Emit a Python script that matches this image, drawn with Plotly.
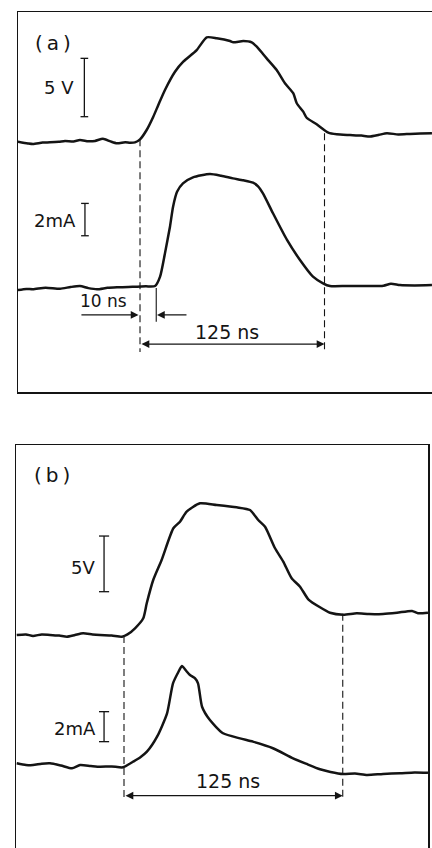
import plotly.graph_objects as go

# ---------------- Panel (a) ----------------
# time in ns (0 = start of voltage pulse), voltage in V
t_va = [-82.7, -76.0, -72.5, -66.0, -61.0, -55.0, -50.8, -45.0, -40.7, -35.0, -30.5, -25.1, -20.0,
        -15.6, -10.0, -6.8, -3.4, 0.0, 4.5, 9.0, 12.4, 16.9, 23.7, 29.3, 38.4, 45.2, 52.0, 61.0,
        63.2, 70.0, 75.7, 79.1, 85.8, 92.6, 98.2, 103.9, 106.2, 110.6, 112.9, 119.7, 127.6,
        133.3, 142.3, 150.0, 156.0, 162.0, 167.3, 175.0, 182.9, 190.0, 197.8]
v_a = [0.03, -0.12, -0.17, -0.05, -0.03, 0.02, 0.09, 0.05, 0.17, 0.06, 0.09, 0.28, 0.05,
       -0.11, -0.02, -0.06, -0.03, 0.23, 1.03, 2.17, 3.17, 4.46, 6.02, 6.88, 7.88, 8.97, 8.89, 8.65,
       8.54, 8.65, 8.54, 8.17, 7.17, 6.17, 5.03, 4.17, 3.32, 2.60, 2.08, 1.52, 0.80,
       0.66, 0.60, 0.55, 0.48, 0.62, 0.75, 0.65, 0.69, 0.72, 0.75]

# current in mA
t_ia = [-82.7, -77.0, -72.5, -64.0, -54.2, -47.0, -40.7, -35.0, -29.1, -22.0, -15.6, -8.0, -2.0,
        4.0, 10.2, 13.6, 16.9, 20.3, 22.4, 25.1, 29.1, 35.9, 47.4, 55.0, 63.0, 70.0, 76.6, 80.0,
        83.3, 90.1, 99.6, 108.4, 117.2, 124.0, 128.7, 140.0, 153.8, 165.0, 170.0, 176.2, 186.0, 197.8]
i_a = [-0.17, -0.10, -0.12, -0.02, -0.09, 0.02, 0.08, -0.05, -0.12, -0.03, 0.0, 0.02, 0.04,
       0.06, 0.08, 0.66, 2.10, 3.75, 4.99, 5.91, 6.43, 6.80, 7.01, 6.90, 6.74, 6.62, 6.47, 6.25,
       5.81, 4.58, 2.93, 1.69, 0.66, 0.25, 0.08, 0.08, 0.08, 0.10, 0.22, 0.14, 0.12, 0.14]

# ---------------- Panel (b) ----------------
t_vb = [-61.3, -56.0, -52.0, -47.0, -42.3, -37.0, -32.6, -28.0, -23.4, -18.0, -13.7, -7.0, -1.1,
        2.0, 6.3, 11.0, 13.0, 16.7, 21.5, 28.2, 32.0, 35.8, 43.4, 53.0, 64.4, 72.0, 76.7, 80.6,
        86.3, 91.0, 95.8, 100.6, 105.3, 112.0, 117.7, 125.3, 133.0, 140.0, 148.0, 156.0, 164.6,
        168.0, 173.7]
v_b = [0.0, 0.05, -0.09, 0.05, 0.0, -0.05, -0.15, 0.0, 0.15, 0.05, 0.0, -0.05, -0.15,
       0.05, 0.60, 1.50, 2.85, 4.94, 6.74, 9.59, 10.18, 11.08, 11.83, 11.68, 11.47, 11.23, 10.33,
       9.73, 7.79, 6.59, 5.09, 4.34, 3.21, 2.49, 2.00, 1.82, 1.95, 1.88, 1.89, 2.0, 2.16,
       1.95, 2.00]

t_ib = [-61.3, -56.0, -52.0, -47.0, -42.3, -36.0, -29.7, -25.1, -19.0, -13.7, -7.0, -0.6, 5.1,
        9.0, 13.1, 18.9, 24.6, 28.0, 31.0, 33.1, 35.5, 37.7, 40.5, 42.3, 44.6, 49.1, 56.6, 66.3,
        73.7, 85.1, 96.6, 104.0, 112.0, 118.0, 125.1, 132.0, 138.9, 148.0, 157.7, 166.0, 173.7]
i_b = [0.23, 0.12, 0.11, 0.20, 0.23, 0.08, -0.11, 0.11, 0.05, 0.0, 0.02, -0.04, 0.33,
       0.60, 1.0, 2.0, 3.56, 5.56, 6.30, 6.71, 6.40, 6.11, 5.90, 5.56, 4.0, 3.11, 2.23, 1.89,
       1.67, 1.23, 0.56, 0.20, -0.17, -0.35, -0.49, -0.45, -0.55, -0.48, -0.44, -0.38, -0.40]

# markers / scales
pulse_ns = 125
delay_ns = 11
scale_v = 5
scale_ma = 2

INK = "#141414"
FONT = "DejaVu Sans"

fig = go.Figure()


def line(x, y, xa, ya, width=2.5, dash=None, smooth=False):
    ln = dict(color=INK, width=width, dash=dash)
    if smooth:
        ln.update(shape="spline", smoothing=0.6)
    fig.add_trace(go.Scatter(x=x, y=y, xaxis=xa, yaxis=ya, mode="lines", line=ln,
                             hoverinfo="skip", showlegend=False))


# traces
line(t_va, v_a, "x", "y", smooth=True)
line(t_ia, i_a, "x", "y2", smooth=True)
line(t_vb, v_b, "x2", "y3", smooth=True)
line(t_ib, i_b, "x2", "y4", smooth=True)

DASH = "7px,4px"
# dashed markers panel (a)
line([0, 0], [0.23, -18.0], "x", "y", 1.1, DASH)
line([pulse_ns, pulse_ns], [0.75, -18.0], "x", "y", 1.1, DASH)
# delay tick panel (a)
line([delay_ns, delay_ns], [-12.5, -15.4], "x", "y", 1.1)
# dashed markers panel (b)
line([0, 0], [-0.1, -14.9], "x2", "y3", 1.1, DASH)
line([pulse_ns, pulse_ns], [1.9, -14.9], "x2", "y3", 1.1, DASH)


# scale bars
def bar(tc, lo, hi, cap, xa, ya):
    line([tc, tc, None, tc - cap, tc + cap, None, tc - cap, tc + cap],
         [lo, hi, None, lo, lo, None, hi, hi], xa, ya, 1.3)


bar(-37.7, 2.17, 2.17 + scale_v, 2.6, "x", "y")
bar(-37.3, 3.19, 3.19 + scale_ma, 2.6, "x", "y2")
bar(-11.4, 3.89, 3.89 + scale_v, 2.9, "x2", "y3")
bar(-11.4, 1.67, 1.67 + scale_ma, 2.9, "x2", "y4")

ann = []


def arrow(x, y, ax, xr, yr, both=False):
    ann.append(dict(x=x, y=y, ax=ax, ay=y, xref=xr, yref=yr, axref=xr, ayref=yr,
                    text="", showarrow=True, arrowhead=2, arrowsize=1.3, arrowwidth=1.2,
                    arrowcolor=INK, arrowside="end+start" if both else "end"))


def text(s, x, y, xr, yr, size=17, xanchor="center"):
    ann.append(dict(x=x, y=y, xref=xr, yref=yr, text=s, showarrow=False, xanchor=xanchor,
                    yanchor="middle", font=dict(family=FONT, size=size, color=INK)))


# panel (a) annotations
arrow(pulse_ns, -17.31, 0, "x", "y", both=True)
arrow(-1.0, -14.82, -40.7, "x", "y")
arrow(delay_ns + 0.5, -14.82, 32.5, "x", "y")
text("10 ns", -24.4, -13.6, "x", "y", 17)
text("125 ns", 59, -16.3, "x", "y", 19)
text("5 V", -43.4, 4.71, "x", "y", 18, "right")
text("2mA", -42.0, 4.16, "x", "y2", 18, "right")
text("(\u2009a\u2009)", 53 / 432, 1 - 43 / 848, "paper", "paper", 20)

# panel (b) annotations
arrow(pulse_ns, -14.44, 0, "x2", "y3", both=True)
text("125 ns", 59.4, -13.1, "x2", "y3", 19)
text("5V", -15.4, 6.02, "x2", "y3", 18, "right")
text("2mA", -14.9, 2.58, "x2", "y4", 18, "right")
text("(\u2009b\u2009)", 52 / 432, 1 - 475 / 848, "paper", "paper", 20)

ax_common = dict(showgrid=False, zeroline=False, showticklabels=False, ticks="",
                 linecolor=INK, linewidth=1.5)

fig.update_layout(
    width=432, height=848, margin=dict(l=0, r=0, t=0, b=0),
    paper_bgcolor="white", plot_bgcolor="white", showlegend=False,
    annotations=ann,
    xaxis=dict(domain=[18 / 432, 1], range=[-82.66, 197.83], anchor="y",
               showline=True, mirror=True, **ax_common),
    yaxis=dict(domain=[1 - 392 / 848, 1 - 12 / 848], range=[-21.42, 11.14], anchor="x",
               showline=True, **ax_common),
    yaxis2=dict(overlaying="y", range=[-6.475, 17.03], anchor="x", showline=False, **ax_common),
    xaxis2=dict(domain=[16 / 432, 428 / 432], range=[-61.71, 173.71], anchor="y3",
                side="top", showline=True, **ax_common),
    yaxis3=dict(domain=[0, 1 - 445 / 848], range=[-19.14, 17.07], anchor="x2",
                showline=True, mirror=True, **ax_common),
    yaxis4=dict(overlaying="y3", range=[-5.42, 21.45], anchor="x2", showline=False, **ax_common),
)

fig.write_html("out.html", config={"displayModeBar": False, "staticPlot": True},
               post_script="document.body.style.margin='0';document.body.style.padding='0';"
                           "document.documentElement.style.overflow='hidden';")
